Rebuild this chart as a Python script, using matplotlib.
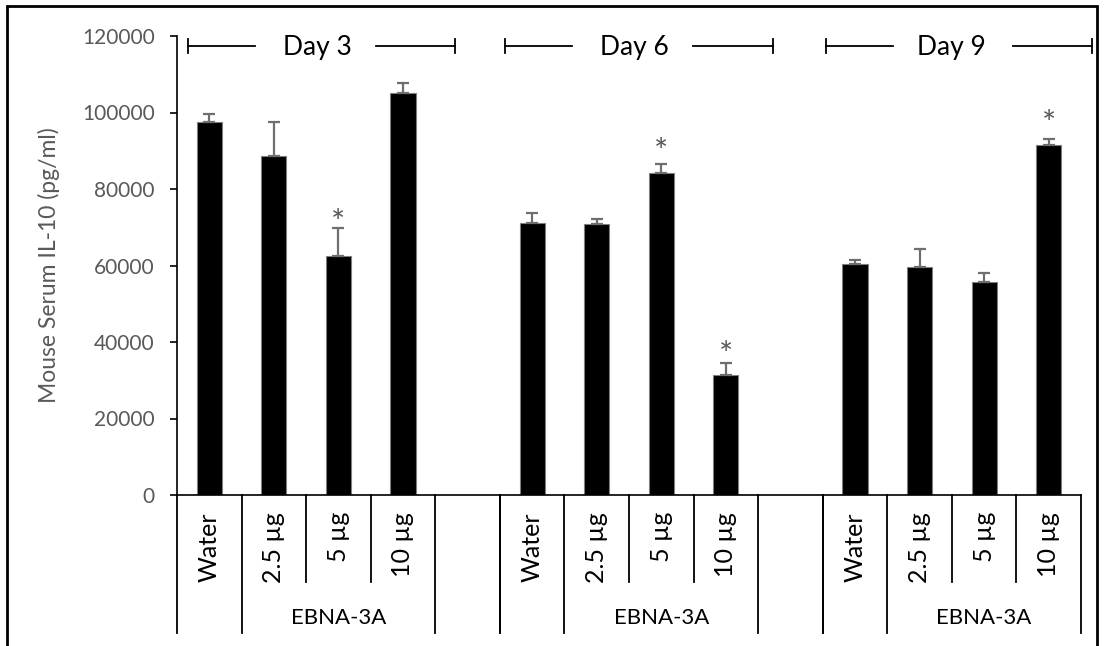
import numpy as np
import matplotlib
matplotlib.use("Agg")
import matplotlib.pyplot as plt
from matplotlib import transforms
from matplotlib.patches import Rectangle

plt.rcParams['font.family'] = ['Lato', 'DejaVu Sans']

# data
days = ["Day 3", "Day 6", "Day 9"]
treatments = ["Water", "2.5 µg", "5 µg", "10 µg"]
means = [
    [97600, 88500, 62500, 105100],
    [71200, 70900, 84200, 31300],
    [60300, 59500, 55600, 91600],
]
errors = [
    [2100, 8900, 7200, 2700],
    [2600, 1200, 2400, 3100],
    [1100, 4900, 2500, 1600],
]
# significance stars: (day index, treatment index, y position of the star)
stars = [(0, 2, 74200), (1, 2, 92600), (1, 3, 39700), (2, 3, 100000)]
group_label = "EBNA-3A"

W, H = 1104, 646
fig = plt.figure(figsize=(W / 100, H / 100), dpi=100)
ax = fig.add_axes([177 / W, (H - 495) / H, (1081 - 177) / W, (495 - 36) / H])

# slots: 4 bars per day and one empty slot between days
slot = []
for g in range(len(days)):
    slot.append(np.arange(4) + 5 * g)
slot = np.array(slot)

x = slot.ravel()
y = np.array(means).ravel()
e = np.array(errors).ravel()

ax.bar(x, y, width=0.39, color="black", edgecolor="#7f7f7f", linewidth=0.8, zorder=2)
ax.errorbar(x, y, yerr=[np.zeros_like(e), e], fmt="none", ecolor="#6e6e6e",
            elinewidth=1.6, capsize=4.3, capthick=1.6, zorder=3)

for g, t, ys in stars:
    ax.annotate("*", (slot[g][t], ys), xytext=(0, -9), textcoords="offset points",
                ha="center", va="center", fontsize=24, color="#595959")

ax.set_xlim(-0.5, 13.5)
ax.set_ylim(0, 120000)
ax.set_yticks(np.arange(0, 120001, 20000))
ax.tick_params(axis="y", length=5, width=1.2, pad=11, labelsize=15, labelcolor="#595959")
ax.set_xticks([])
for s in ["top", "right"]:
    ax.spines[s].set_visible(False)
ax.spines["left"].set_linewidth(1.2)
ax.spines["bottom"].set_linewidth(1.2)
ax.set_ylabel("Mouse Serum IL-10 (pg/ml)", fontsize=16.5, color="#595959")
ax.yaxis.set_label_coords(-0.129, 0.5)

# multi-level category axis
trans = transforms.blended_transform_factory(ax.transData, ax.transAxes)
y_short = -(582 - 495) / 459
y_long = -(633 - 495) / 459
y_lab = -(512 - 495) / 459
y_grp = -(618 - 495) / 459
for g in range(len(days)):
    for t, name in enumerate(treatments):
        ax.text(slot[g][t], y_lab, name, transform=trans, rotation=90,
                ha="center", va="top", fontsize=18, color="black")
    ax.text(slot[g][2], y_grp, group_label, transform=trans, ha="center",
            va="center", fontsize=16, color="black")
    edges = [slot[g][0] - 0.5, slot[g][1] - 0.5, slot[g][2] - 0.5,
             slot[g][3] - 0.5, slot[g][3] + 0.5]
    for k, xe in enumerate(edges):
        bottom = y_short if k in (2, 3) else y_long
        ax.plot([xe, xe], [0, bottom], transform=trans, color="black",
                lw=1.3, clip_on=False)
    if g < len(days) - 1:
        xe = slot[g][3] + 1.5
        ax.plot([xe, xe], [0, y_long], transform=trans, color="black",
                lw=1.3, clip_on=False)

# day brackets above the bars
bracket_left = [-0.33, 4.58, 9.55]
bracket_gap_l = [0.71, 5.62, 10.59]
bracket_gap_r = [2.58, 7.49, 12.45]
bracket_right = [3.80, 8.73, 13.67]
day_center = [1.67, 6.58, 11.50]
yb = 117400
tick_h = 1900
for g, day in enumerate(days):
    ax.plot([bracket_left[g], bracket_gap_l[g]], [yb, yb], color="black", lw=1.3, clip_on=False)
    ax.plot([bracket_gap_r[g], bracket_right[g]], [yb, yb], color="black", lw=1.3, clip_on=False)
    ax.plot([bracket_left[g]] * 2, [yb - tick_h, yb + tick_h], color="black", lw=1.3, clip_on=False)
    ax.plot([bracket_right[g]] * 2, [yb - tick_h, yb + tick_h], color="black", lw=1.3, clip_on=False)
    ax.text(day_center[g], yb - 400, day, ha="center", va="center", fontsize=19, color="black")

# outer frame
fig.patches.append(Rectangle((7 / W, -0.05), (1097 - 7) / W, (H - 6) / H + 0.05,
                             transform=fig.transFigure, fill=False,
                             edgecolor="black", linewidth=2))

fig.savefig("out.png", dpi=100)
